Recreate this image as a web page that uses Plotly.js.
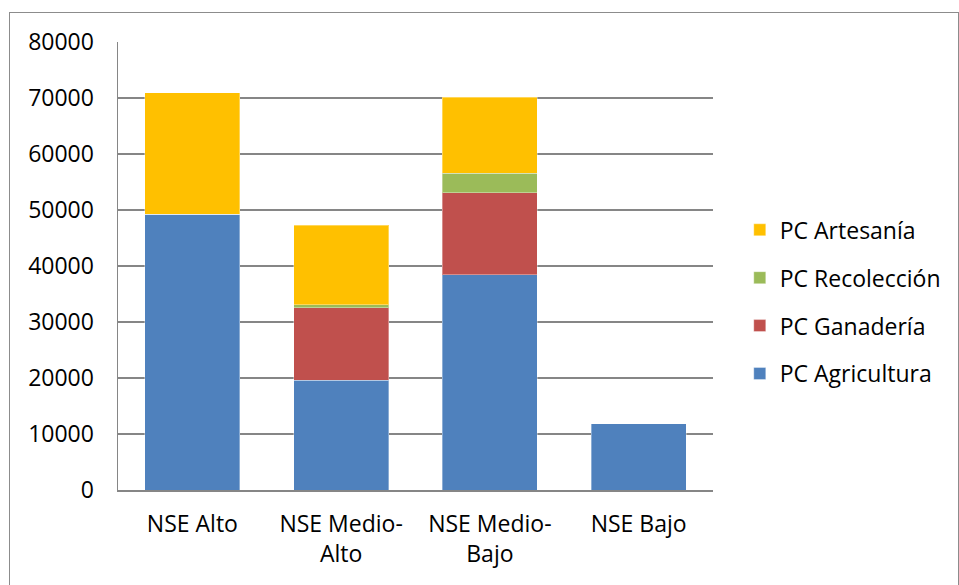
<!DOCTYPE html>
<html>
<head>
<meta charset="utf-8">
<script src="https://cdn.plot.ly/plotly-3.0.1.min.js"></script>
<style>
  html, body { margin: 0; padding: 0; background: #fff; }
  #chart { width: 959px; height: 585px; }
  #frame { position: absolute; left: 9px; top: 12px; width: 948px; height: 580px; border: 1px solid #8c8c8c; pointer-events: none; }
</style>
</head>
<body>
<div id="chart"></div>
<div id="frame"></div>
<script>
const categories = ["NSE Alto", "NSE Medio-<br>Alto", "NSE Medio-<br>Bajo", "NSE Bajo"];
const agricultura = [49200, 19600, 38400, 11800];
const ganaderia   = [0, 12950, 14700, 0];
const recoleccion = [0, 540, 3460, 0];
const artesania   = [21700, 14180, 13590, 0];
const seriesNames = ["PC Agricultura", "PC Ganadería", "PC Recolección", "PC Artesanía"];
const yTicks = [0, 10000, 20000, 30000, 40000, 50000, 60000, 70000, 80000];

const colors = ["#4F81BD", "#C0504D", "#9BBB59", "#FFC000"];
const seriesVals = [agricultura, ganaderia, recoleccion, artesania];

const traces = seriesVals.map((vals, i) => ({
  type: "bar",
  x: categories,
  y: vals,
  name: seriesNames[i],
  legendgroup: "g" + i,
  legendrank: 10 - i,
  marker: { color: colors[i], line: { color: "rgba(255,255,255,0.35)", width: 1 } },
  hoverinfo: "x+y+name"
}));

const fam = "Open Sans, Noto Sans, sans-serif";
const fsize = 23;

const layout = {
  width: 959, height: 585,
  margin: { l: 118, r: 246, t: 42, b: 95 },
  barmode: "stack",
  bargap: 0.36,
  paper_bgcolor: "#fff",
  plot_bgcolor: "#fff",
  font: { family: fam, size: fsize, color: "#000" },
  showlegend: true,
  legend: {
    traceorder: "grouped",
    tracegroupgap: 15,
    x: 1.045, xanchor: "left",
    y: 0.42, yanchor: "middle",
    font: { family: fam, size: fsize, color: "#000" }
  },
  xaxis: {
    tickvals: categories,
    ticktext: categories,
    showline: true, linecolor: "#868686", linewidth: 1.5,
    ticks: "", ticklabelstandoff: 13,
    tickfont: { family: fam, size: fsize },
    showgrid: false
  },
  yaxis: {
    range: [0, 80000],
    tickvals: yTicks,
    ticktext: yTicks.map(String),
    showline: true, linecolor: "#868686", linewidth: 1.5,
    showgrid: true, gridcolor: "#868686", gridwidth: 1.5,
    zeroline: false,
    ticks: "", ticklabelstandoff: 18,
    tickfont: { family: fam, size: fsize }
  }
};

Plotly.newPlot("chart", traces, layout, { staticPlot: true, displayModeBar: false });
</script>
</body>
</html>
